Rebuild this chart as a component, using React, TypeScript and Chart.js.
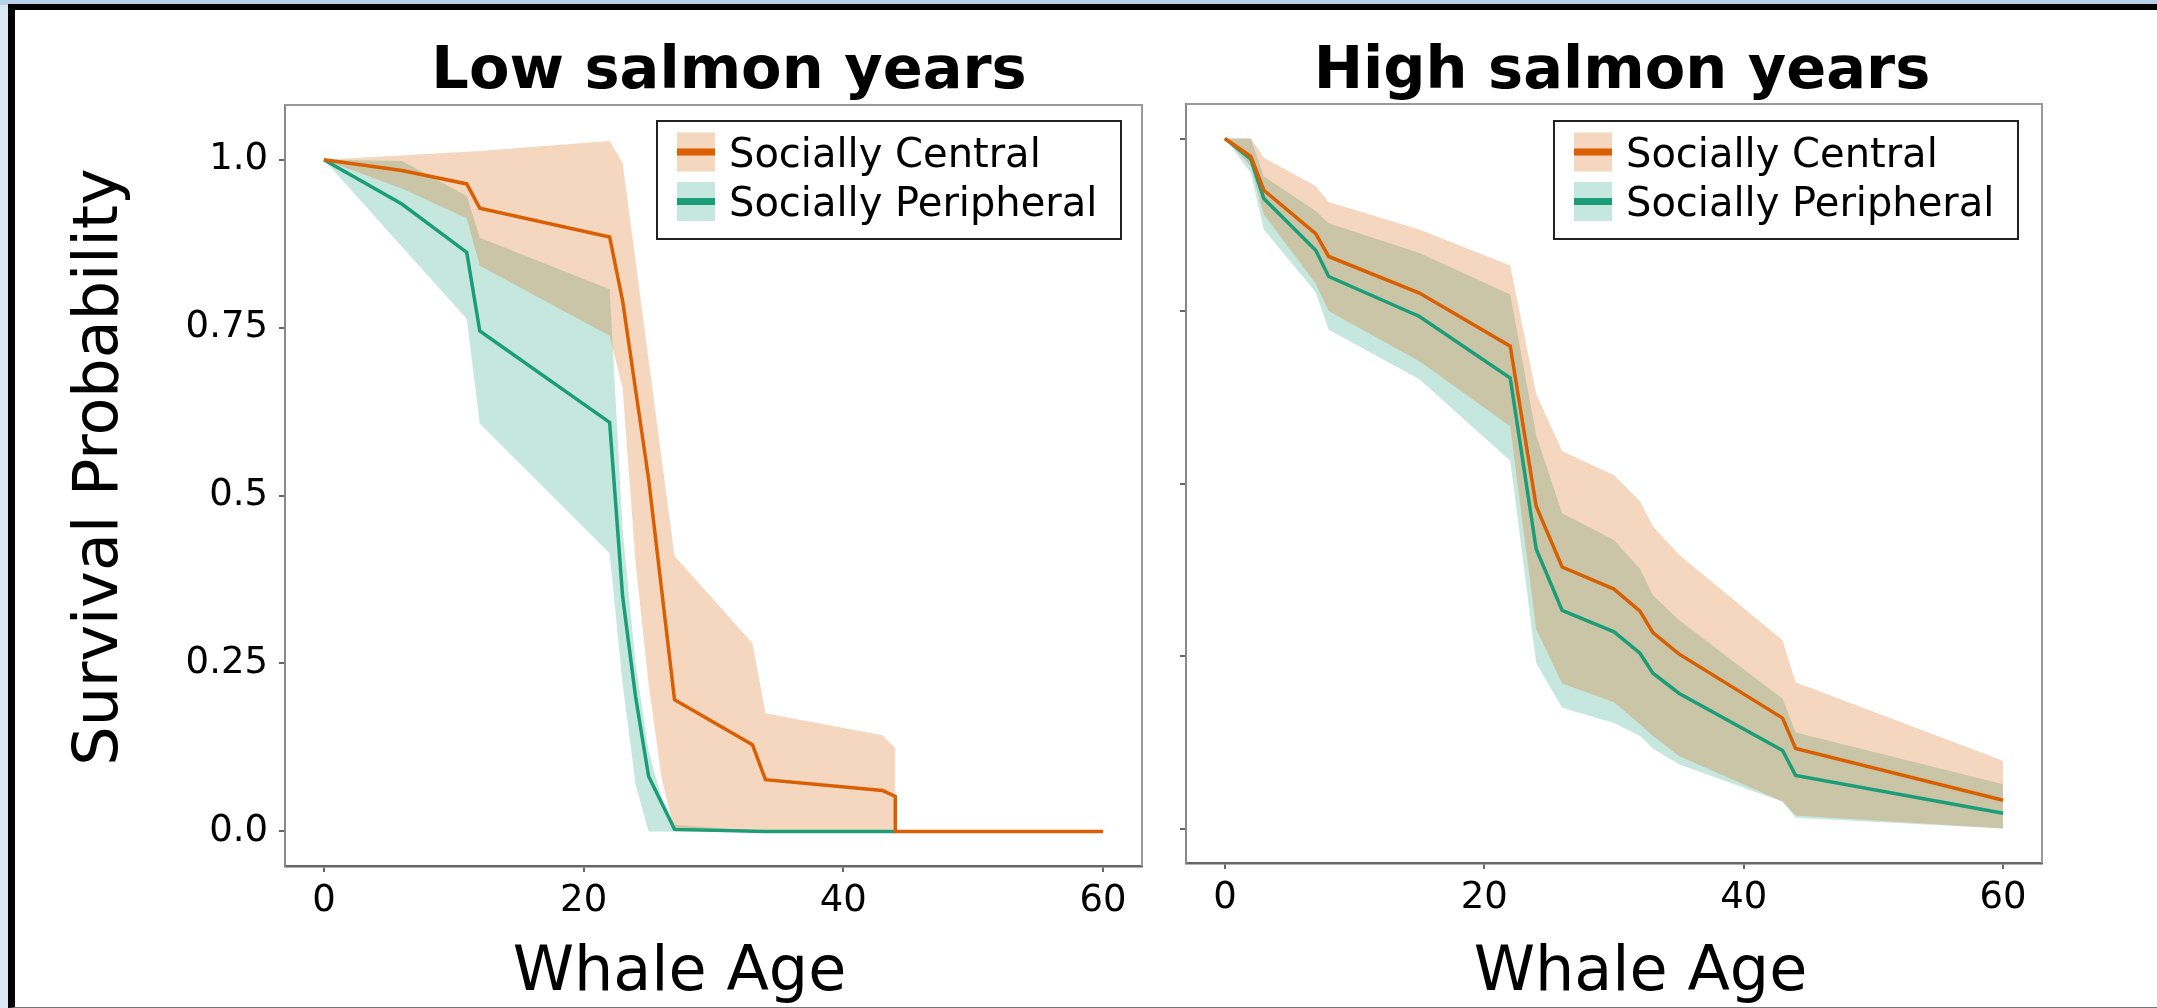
import React, { useEffect, useRef } from 'react';
import { Chart, registerables } from 'chart.js';

Chart.register(...registerables);

// ---------- text & ticks ----------
const panelTitles = ['Low salmon years', 'High salmon years'];
const seriesNames = ['Socially Central', 'Socially Peripheral'];
const xAxisTitle = 'Whale Age';
const yAxisTitle = 'Survival Probability';
const xTickValues = [0, 20, 40, 60];
const yTickValues = [0, 0.25, 0.5, 0.75, 1];
const yTickLabels = ['0.0', '0.25', '0.5', '0.75', '1.0'];

// ---------- Low salmon years ----------
const lowCentralAge = [0, 6, 11, 12, 22, 23, 25, 27, 33, 34, 43, 44, 44, 60];
const lowCentralSurv = [1.0, 0.984, 0.964, 0.928, 0.885, 0.79, 0.525, 0.196, 0.129, 0.077, 0.061, 0.052, 0.0, 0.0];
const lowCentralUpperAge = [0, 11, 12, 22, 23, 27, 33, 34, 43, 44];
const lowCentralUpper = [1.0, 1.012, 1.013, 1.028, 0.995, 0.41, 0.28, 0.176, 0.143, 0.124];
const lowCentralLowerAge = [0, 6, 11, 12, 22, 23, 24, 25, 26, 27, 44];
const lowCentralLower = [1.0, 0.957, 0.913, 0.842, 0.738, 0.66, 0.4, 0.22, 0.08, 0.0, 0.0];

const lowPeriphAge = [0, 6, 11, 12, 22, 23, 24, 25, 27, 34, 44];
const lowPeriphSurv = [1.0, 0.934, 0.862, 0.745, 0.609, 0.35, 0.2, 0.082, 0.003, 0.0, 0.0];
const lowPeriphUpperAge = [0, 6, 11, 12, 22, 23, 24, 25, 26, 27, 34, 44];
const lowPeriphUpper = [1.0, 0.998, 0.946, 0.884, 0.807, 0.45, 0.25, 0.12, 0.05, 0.01, 0.0, 0.0];
const lowPeriphLowerAge = [0, 11, 12, 22, 23, 24, 25, 44];
const lowPeriphLower = [1.0, 0.763, 0.607, 0.414, 0.22, 0.07, 0.0, 0.0];

// ---------- High salmon years ----------
const highAge = [0, 2, 3, 7, 8, 15, 22, 24, 26, 30, 32, 33, 35, 43, 44, 60];
const highCentralSurv = [1.0, 0.974, 0.925, 0.862, 0.829, 0.776, 0.699, 0.467, 0.379, 0.347, 0.315, 0.284, 0.253, 0.16, 0.116, 0.041];
const highCentralUpper = [1.0, 1.0, 0.972, 0.931, 0.908, 0.868, 0.816, 0.63, 0.547, 0.512, 0.4745, 0.438, 0.397, 0.273, 0.212, 0.098];
const highCentralLower = [1.0, 0.96, 0.89, 0.79, 0.75, 0.677, 0.583, 0.289, 0.21, 0.183, 0.151, 0.134, 0.105, 0.039, 0.019, 0.0];
const highPeriphSurv = [1.0, 0.97, 0.913, 0.838, 0.8, 0.742, 0.653, 0.405, 0.316, 0.285, 0.254, 0.225, 0.196, 0.113, 0.077, 0.022];
const highPeriphUpper = [1.0, 1.0, 0.945, 0.895, 0.877, 0.834, 0.774, 0.57, 0.457, 0.418, 0.3765, 0.338, 0.302, 0.188, 0.139, 0.064];
const highPeriphLower = [1.0, 0.95, 0.868, 0.777, 0.723, 0.651, 0.533, 0.24, 0.175, 0.153, 0.134, 0.116, 0.093, 0.0387, 0.0155, 0.0];

// ---------- styles ----------
const FONT = 'DejaVu Sans';
const centralColor = '#d95f02';
const periphColor = '#1b9e77';
const centralBand = 'rgba(217,95,2,0.25)';
const periphBand = 'rgba(27,158,119,0.25)';

const pts = (xs: number[], ys: number[]) => xs.map((x, i) => ({ x, y: ys[i] }));

type PanelLayout = {
  canvasW: number;
  yW: number;
  padR: number;
  padT: number;
  xH: number;
  yMin: number;
  yMax: number;
  showYLabels: boolean;
  titleX: number;
  xTitleX: number;
  legendX: number;
  drawYTitle: boolean;
};

const layouts: PanelLayout[] = [
  { canvasW: 1165, yW: 285, padR: 23, padT: 105, xH: 142, yMin: -0.0515, yMax: 1.0815, showYLabels: true, titleX: 729, xTitleX: 679.5, legendX: 657, drawYTitle: true },
  { canvasW: 992, yW: 21, padR: 115, padT: 104, xH: 145, yMin: -0.05, yMax: 1.05, showYLabels: false, titleX: 457, xTitleX: 475.5, legendX: 389, drawYTitle: false },
];

function makeDecor(p: number) {
  const L = layouts[p];
  return {
    id: 'decor' + p,
    beforeDatasetsDraw(chart: any) {
      const { ctx, chartArea: a } = chart;
      ctx.save();
      ctx.strokeStyle = '#9a9a9a';
      ctx.lineWidth = 2;
      ctx.beginPath();
      ctx.moveTo(a.left, a.top);
      ctx.lineTo(a.right, a.top);
      ctx.lineTo(a.right, a.bottom);
      ctx.stroke();
      ctx.restore();
    },
    afterDraw(chart: any) {
      const { ctx } = chart;
      ctx.save();
      // panel title
      ctx.fillStyle = '#000';
      ctx.font = `bold 59px "${FONT}"`;
      ctx.textAlign = 'center';
      ctx.textBaseline = 'alphabetic';
      ctx.fillText(panelTitles[p], L.titleX, 88);
      // x axis title
      ctx.font = `62px "${FONT}"`;
      ctx.fillText(xAxisTitle, L.xTitleX, 990);
      // y axis title
      if (L.drawYTitle) {
        ctx.save();
        ctx.translate(117, 467);
        ctx.rotate(-Math.PI / 2);
        ctx.fillText(yAxisTitle, 0, 0);
        ctx.restore();
      }
      // legend
      const lx = L.legendX, ly = 121, lw = 464, lh = 118;
      ctx.fillStyle = '#fff';
      ctx.fillRect(lx, ly, lw, lh);
      ctx.strokeStyle = '#222';
      ctx.lineWidth = 2;
      ctx.strokeRect(lx, ly, lw, lh);
      const rows = [152, 201.5];
      const bands = [centralBand, periphBand];
      const lines = [centralColor, periphColor];
      ctx.textAlign = 'left';
      ctx.font = `40px "${FONT}"`;
      rows.forEach((cy, i) => {
        ctx.fillStyle = bands[i];
        ctx.fillRect(lx + 20, cy - 19.5, 38, 39);
        ctx.fillStyle = lines[i];
        ctx.fillRect(lx + 20, cy - 3.5, 38, 7);
        ctx.fillStyle = '#000';
        ctx.fillText(seriesNames[i], lx + 72, cy + 14.5);
      });
      ctx.restore();
    },
  };
}

function makeConfig(p: number): any {
  const L = layouts[p];
  const data =
    p === 0
      ? {
          c: pts(lowCentralAge, lowCentralSurv),
          cu: pts(lowCentralUpperAge, lowCentralUpper),
          cl: pts(lowCentralLowerAge, lowCentralLower),
          r: pts(lowPeriphAge, lowPeriphSurv),
          ru: pts(lowPeriphUpperAge, lowPeriphUpper),
          rl: pts(lowPeriphLowerAge, lowPeriphLower),
        }
      : {
          c: pts(highAge, highCentralSurv),
          cu: pts(highAge, highCentralUpper),
          cl: pts(highAge, highCentralLower),
          r: pts(highAge, highPeriphSurv),
          ru: pts(highAge, highPeriphUpper),
          rl: pts(highAge, highPeriphLower),
        };
  const bandBase = { pointRadius: 0, borderWidth: 0, borderColor: 'transparent', tension: 0 };
  return {
    type: 'line',
    data: {
      datasets: [
        { label: seriesNames[0], data: data.c, borderColor: centralColor, borderWidth: 3.5, pointRadius: 0, fill: false, order: 1, tension: 0 },
        { label: seriesNames[1], data: data.r, borderColor: periphColor, borderWidth: 3.5, pointRadius: 0, fill: false, order: 2, tension: 0 },
        { ...bandBase, label: 'cu', data: data.cu, fill: '+1', backgroundColor: centralBand, order: 3 },
        { ...bandBase, label: 'cl', data: data.cl, fill: false, order: 3 },
        { ...bandBase, label: 'ru', data: data.ru, fill: '+1', backgroundColor: periphBand, order: 4 },
        { ...bandBase, label: 'rl', data: data.rl, fill: false, order: 4 },
      ],
    },
    options: {
      responsive: false,
      maintainAspectRatio: false,
      animation: false,
      events: [],
      layout: { padding: { left: 0, right: L.padR, top: L.padT, bottom: 0 } },
      plugins: { legend: { display: false }, tooltip: { enabled: false }, title: { display: false } },
      scales: {
        x: {
          type: 'linear',
          min: -3,
          max: 63,
          afterBuildTicks: (s: any) => {
            s.ticks = xTickValues.map((v) => ({ value: v }));
          },
          afterFit: (s: any) => {
            s.height = L.xH;
          },
          ticks: { font: { family: FONT, size: 37 }, color: '#000', padding: 7, maxRotation: 0, autoSkip: false, callback: (v: any) => String(v) },
          grid: { drawOnChartArea: false, drawTicks: true, tickLength: 6, color: '#666', lineWidth: 2 },
          border: { display: true, color: '#666', width: 2.5 },
        },
        y: {
          type: 'linear',
          min: L.yMin,
          max: L.yMax,
          afterBuildTicks: (s: any) => {
            s.ticks = yTickValues.map((v) => ({ value: v }));
          },
          afterFit: (s: any) => {
            s.width = L.yW;
          },
          ticks: {
            display: L.showYLabels,
            font: { family: FONT, size: 37 },
            color: '#000',
            padding: 11,
            autoSkip: false,
            callback: (v: any) => {
              const i = yTickValues.indexOf(v);
              return i >= 0 ? yTickLabels[i] : '';
            },
          },
          grid: { drawOnChartArea: false, drawTicks: true, tickLength: 6, color: '#666', lineWidth: 2 },
          border: { display: true, color: '#888', width: 2 },
        },
      },
    },
    plugins: [makeDecor(p)],
  };
}

export default function App() {
  const leftRef = useRef<HTMLCanvasElement>(null);
  const rightRef = useRef<HTMLCanvasElement>(null);
  useEffect(() => {
    Chart.defaults.font.family = FONT;
    const c1 = new Chart(leftRef.current as HTMLCanvasElement, makeConfig(0));
    const c2 = new Chart(rightRef.current as HTMLCanvasElement, makeConfig(1));
    return () => {
      c1.destroy();
      c2.destroy();
    };
  }, []);
  return (
    <div style={{ position: 'absolute', left: 0, top: 0, width: 2157, height: 1008, background: '#d9e7f5', overflow: 'hidden' }}>
      <div style={{ position: 'absolute', left: 0, top: 0, width: 2157, height: 5, background: '#b8d1ea' }} />
      <div
        style={{
          position: 'absolute',
          left: 8,
          top: 4,
          right: 0,
          bottom: 0,
          background: '#fff',
          borderTop: '6px solid #000',
          borderLeft: '7px solid #000',
          borderBottom: '1px solid #777',
          boxSizing: 'border-box',
        }}
      />
      <canvas ref={leftRef} width={1165} height={1008} style={{ position: 'absolute', left: 0, top: 0, width: 1165, height: 1008 }} />
      <canvas ref={rightRef} width={992} height={1008} style={{ position: 'absolute', left: 1165, top: 0, width: 992, height: 1008 }} />
    </div>
  );
}
